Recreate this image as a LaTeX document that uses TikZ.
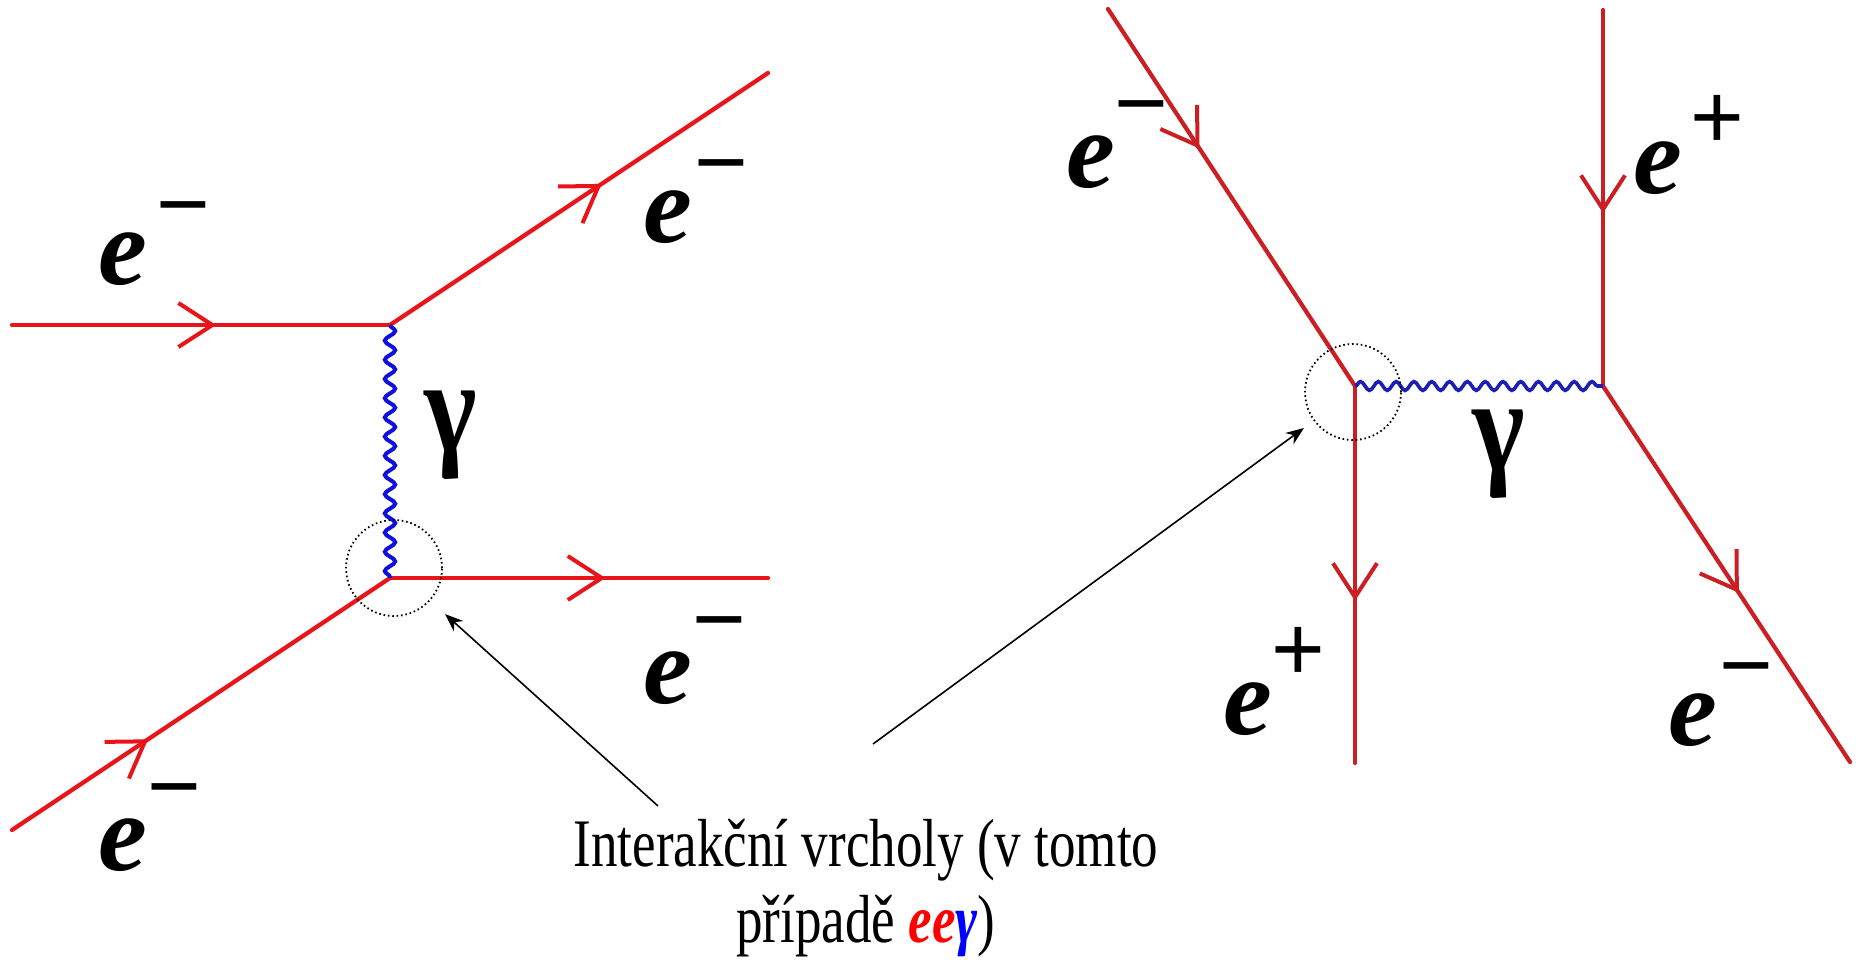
\documentclass[tikz,border=0pt]{standalone}
\usepackage{fontspec}
\setmainfont{Liberation Serif}
\newfontfamily\signfont{Liberation Sans}
\usepackage{graphicx}
\usepackage{tikz}
\usetikzlibrary{positioning,arrows.meta,calc,decorations.pathmorphing,decorations.markings}
\definecolor{fermL}{HTML}{E8141A}
\definecolor{fermR}{HTML}{CC1F24}
\definecolor{photL}{HTML}{1010DC}
\definecolor{photR}{HTML}{1E1EB4}
\definecolor{eered}{HTML}{FF0000}
\definecolor{gamblue}{HTML}{0000FF}
\newcommand{\mns}{{\signfont\char"2212}}
\newcommand{\pls}{{\signfont +}}
\tikzset{
  fermion/.style={line width=2.1pt, line cap=round, postaction={decorate},
    decoration={markings, mark=at position #1 with {\arrow{Straight Barb[length=17pt,width=22pt,line width=2pt]}}}},
  fermion/.default=0.5,
  photon/.style={line width=2pt, decorate, decoration={snake, amplitude=2.6pt, segment length=9.6pt}},
  ring/.style={circle, draw, line width=0.9pt, dash pattern=on 0.8pt off 1.4pt, minimum size=48pt, inner sep=0pt},
  pointer/.style={-{Stealth[length=9pt,width=7pt]}, line width=0.8pt},
  elab/.style={font=\fontsize{55}{60}\selectfont\bfseries\itshape, inner sep=0pt},
  sgn/.style={font=\fontsize{46}{50}\selectfont, inner sep=0pt, anchor=base, yshift=-16pt},
  gam/.style={font=\fontsize{66}{70}\selectfont\bfseries, inner sep=0pt},
  captxt/.style={font=\fontsize{34}{40}\selectfont, inner sep=0pt, anchor=base}
}

\begin{document}
\begin{tikzpicture}[x=0.5pt,y=-0.5pt]
  \fill[white] (0,0) rectangle (1858,959);
  \useasboundingbox (0,0) rectangle (1858,959);

  \coordinate (v1) at (390,325);
  \coordinate (v2) at (390,578);
  \coordinate (inA) at (12,325);
  \coordinate (outA) at (768,73);
  \coordinate (outB) at (768,578);
  \coordinate (inB) at (12,830);
  \draw[fermion=0.54,fermL] (inA) -- (v1);
  \draw[fermion=0.56,fermL] (v1) -- (outA);
  \draw[fermion=0.57,fermL] (v2) -- (outB);
  \draw[fermion=0.36,fermL] (inB) -- (v2);
  \draw[photon,photL] (v1) -- (v2);

  \coordinate (v3) at (1355,386);
  \coordinate (v4) at (1603,386);
  \coordinate (inC) at (1108,9);
  \coordinate (inD) at (1603,10);
  \coordinate (outC) at (1355,763);
  \coordinate (outD) at (1850,762);
  \draw[fermion=0.37,fermR] (inC) -- (v3);
  \draw[fermion=0.54,fermR] (inD) -- (v4);
  \draw[fermion=0.57,fermR] (v3) -- (outC);
  \draw[fermion=0.55,fermR] (v4) -- (outD);
  \draw[photon,photR,line width=1.8pt,decoration={segment length=8.9pt,amplitude=2.2pt}] (v3) -- (v4);

  \foreach \nm/\x/\y in {eA/123/259,eB/668/217,eC/668/678,eD/123/845,eE/1091/162,eF/1658/168,eG/1248/709,eH/1693/720}
    {\node[elab] (\nm) at (\x,\y) {e};}
  \foreach \nm/\x/\y/\s in {sA/183/203/\mns,sB/721/161/\mns,sC/719/618/\mns,sD/174/785/\mns,sE/1141/102/\mns,sF/1717/116/\pls,sG/1298/648/\pls,sH/1746/664/\mns}
    {\node[sgn] (\nm) at (\x,\y) {\s};}
  \node[gam] (gA) at (451,435) {\scalebox{0.85}[1]{γ}};
  \node[gam] (gB) at (1499,454) {\scalebox{0.85}[1]{γ}};

  \node[ring] (ringL) at (394,568) {};
  \node[ring] (ringR) at (1353,392) {};

  \node[captxt] (cap1) at (866,866) {\scalebox{0.78}[1]{Interakční vrcholy (v tomto}};
  \node[captxt] (cap2) at ([yshift=-38pt]cap1.base) {\scalebox{0.78}[1]{případě \textcolor{eered}{\textbf{\textit{ee}}}\textcolor{gamblue}{\textbf{\textit{γ}}})}};

  \coordinate (tailL) at (658,806);
  \coordinate (tailR) at (873,744);
  \draw[pointer,shorten >=10pt] (tailL) -- (ringL);
  \draw[pointer,shorten >=6pt] (tailR) -- (ringR);
\end{tikzpicture}
\end{document}
